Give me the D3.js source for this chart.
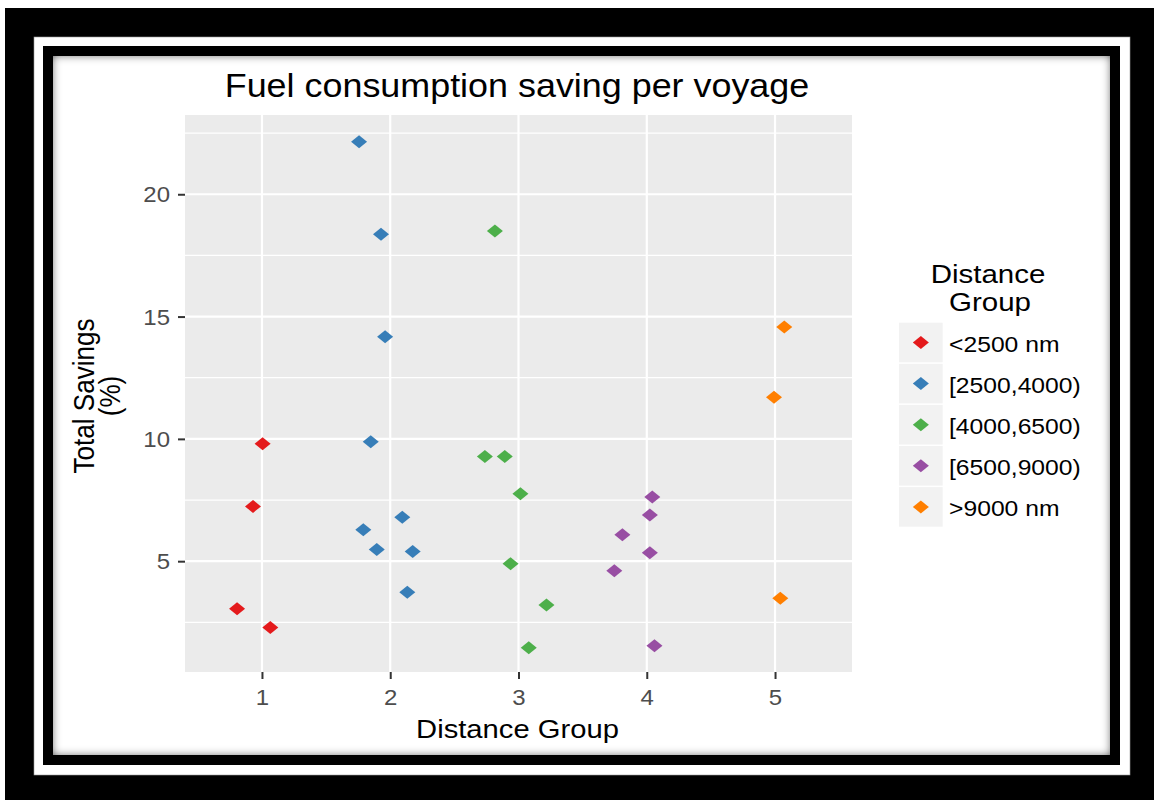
<!DOCTYPE html>
<html>
<head>
<meta charset="utf-8">
<script src="https://cdn.jsdelivr.net/npm/d3@7"></script>
<style>
  html, body { margin: 0; padding: 0; background: #fff; }
  svg { display: block; }
  text { font-family: "Liberation Sans", Arial, sans-serif; }
</style>
</head>
<body>
<svg id="chart" width="1154" height="800"></svg>
<script>
// ---- data -------------------------------------------------------------
const groups = ["<2500 nm", "[2500,4000)", "[4000,6500)", "[6500,9000)", ">9000 nm"];
const groupColors = ["#E41A1C", "#377EB8", "#4DAF4A", "#984EA3", "#FF7F00"];

// jittered group position and total savings (%) for each voyage, per group
const shortX = [1.005, 0.93, 0.806, 1.065];
const shortY = [9.80, 7.24, 3.06, 2.29];
const mediumX = [1.757, 1.928, 1.96, 1.848, 2.094, 1.79, 1.895, 2.175, 2.133];
const mediumY = [22.15, 18.36, 14.18, 9.88, 6.80, 6.29, 5.48, 5.40, 3.73];
const longX = [2.816, 2.738, 2.893, 3.015, 2.938, 3.218, 3.08];
const longY = [18.50, 9.28, 9.28, 7.76, 4.90, 3.21, 1.46];
const veryLongX = [4.043, 4.024, 3.81, 4.024, 3.747, 4.06];
const veryLongY = [7.62, 6.89, 6.08, 5.35, 4.61, 1.54];
const oceanX = [5.072, 4.992, 5.041];
const oceanY = [14.57, 11.70, 3.48];

const xTicks = [1, 2, 3, 4, 5];
const yTicks = [5, 10, 15, 20];
const yMinorTicks = [2.5, 7.5, 12.5, 17.5, 22.5];

const title = "Fuel consumption saving per voyage";
const xTitle = "Distance Group";
const yTitle = ["Total Savings", "(%)"];
const legendTitle = ["Distance", "Group"];

// ---- layout -----------------------------------------------------------
const svg = d3.select("#chart");
const panel = { left: 185, right: 852, top: 115, bottom: 672 };
const squash = 0.9;   // text is drawn slightly condensed vertically

const seriesX = [shortX, mediumX, longX, veryLongX, oceanX];
const seriesY = [shortY, mediumY, longY, veryLongY, oceanY];
const points = [];
seriesX.forEach((xs, g) => xs.forEach((xv, i) => points.push({ g, x: xv, y: seriesY[g][i] })));

const x = d3.scaleLinear().domain([0.4, 5.6]).range([panel.left, panel.right]);
const y = d3.scaleLinear().domain([0.47, 23.24]).range([panel.bottom, panel.top]);

// ---- framed backdrop --------------------------------------------------
const defs = svg.append("defs");
const f = defs.append("filter").attr("id", "innerShadow")
  .attr("x", "-3%").attr("y", "-3%").attr("width", "106%").attr("height", "106%");
f.append("feFlood").attr("flood-color", "#000").attr("flood-opacity", 1).attr("result", "flood");
f.append("feComposite").attr("in", "flood").attr("in2", "SourceAlpha").attr("operator", "out").attr("result", "outside");
f.append("feGaussianBlur").attr("in", "outside").attr("stdDeviation", 4).attr("result", "blur");
f.append("feComposite").attr("in", "blur").attr("in2", "SourceAlpha").attr("operator", "in").attr("result", "shadow");
const fm = f.append("feMerge");
fm.append("feMergeNode").attr("in", "SourceGraphic");
fm.append("feMergeNode").attr("in", "shadow");

svg.append("rect").attr("x", 5).attr("y", 8).attr("width", 1149).attr("height", 792).attr("fill", "#000");
svg.append("rect").attr("x", 34).attr("y", 37).attr("width", 1096).attr("height", 738)
  .attr("fill", "#fff").attr("stroke", "#999").attr("stroke-width", 0.6);
svg.append("rect").attr("x", 43).attr("y", 46).attr("width", 1077).attr("height", 719).attr("fill", "#000");
svg.append("rect").attr("x", 53).attr("y", 56).attr("width", 1057).attr("height", 699)
  .attr("fill", "#fff").attr("filter", "url(#innerShadow)");

// ---- plot panel -------------------------------------------------------
const plot = svg.append("g");
plot.append("rect")
  .attr("x", panel.left).attr("y", panel.top)
  .attr("width", panel.right - panel.left).attr("height", panel.bottom - panel.top)
  .attr("fill", "#EBEBEB");

plot.selectAll("line.minor").data(yMinorTicks).join("line").attr("class", "minor")
  .attr("x1", panel.left).attr("x2", panel.right)
  .attr("y1", d => y(d)).attr("y2", d => y(d))
  .attr("stroke", "#fff").attr("stroke-width", 1.2);
plot.selectAll("line.hmajor").data(yTicks).join("line").attr("class", "hmajor")
  .attr("x1", panel.left).attr("x2", panel.right)
  .attr("y1", d => y(d)).attr("y2", d => y(d))
  .attr("stroke", "#fff").attr("stroke-width", 2.2);
plot.selectAll("line.vmajor").data(xTicks).join("line").attr("class", "vmajor")
  .attr("y1", panel.top).attr("y2", panel.bottom)
  .attr("x1", d => x(d)).attr("x2", d => x(d))
  .attr("stroke", "#fff").attr("stroke-width", 2.2);

// diamond marker
const diamond = (cx, cy, hw = 8, hh = 6.5) =>
  `M${cx},${cy - hh}L${cx + hw},${cy}L${cx},${cy + hh}L${cx - hw},${cy}Z`;

plot.selectAll("path.pt").data(points).join("path").attr("class", "pt")
  .attr("d", d => diamond(x(d.x), y(d.y)))
  .attr("fill", d => groupColors[d.g]);

// ---- axes -------------------------------------------------------------
const tickFont = 24;
const yAxis = svg.append("g").attr("transform", `translate(${panel.left},0)`)
  .call(d3.axisLeft(y).tickValues(yTicks).tickSize(7).tickPadding(8).tickFormat(d3.format("d")));
const xAxis = svg.append("g").attr("transform", `translate(0,${panel.bottom})`)
  .call(d3.axisBottom(x).tickValues(xTicks).tickSize(7).tickPadding(8).tickFormat(d3.format("d")));
[yAxis, xAxis].forEach(a => {
  a.select(".domain").remove();
  a.selectAll(".tick line").attr("stroke", "#333").attr("stroke-width", 2);
  a.selectAll(".tick text").attr("fill", "#4D4D4D").attr("font-size", tickFont)
    .attr("font-family", "Liberation Sans, Arial, sans-serif");
});
yAxis.selectAll(".tick text").attr("dy", "0.35em").attr("transform", `scale(1,${squash})`);
xAxis.selectAll(".tick text").attr("dy", null).attr("y", 33 / squash).attr("transform", `scale(1,${squash})`);

// ---- titles -----------------------------------------------------------
function label(parent, tx, ty, str, size, opts = {}) {
  const t = parent.append("text")
    .attr("transform", `translate(${tx},${ty}) scale(1,${squash})${opts.rotate ? " rotate(-90)" : ""}`)
    .attr("font-size", size)
    .attr("text-anchor", opts.anchor || "middle")
    .attr("fill", opts.fill || "#000")
    .text(str);
  return t;
}
const cx = (panel.left + panel.right) / 2;
label(svg, cx - 1.5, 97, title, 35.9);
label(svg, cx - 1, 738, xTitle, 29.2);
label(svg, 94, 396, yTitle[0], 29, { rotate: true });
label(svg, 120, 396, yTitle[1], 29, { rotate: true });

// ---- legend -----------------------------------------------------------
const legend = svg.append("g");
label(legend, 988, 283, legendTitle[0], 29.5);
label(legend, 990, 311, legendTitle[1], 29.5);
const keyTop = 322.7, keyStep = 41.1, keyLeft = 899, keyW = 43.7, keyH = 39.6;
const keys = legend.selectAll("g.key").data(groups).join("g").attr("class", "key")
  .attr("transform", (d, i) => `translate(${keyLeft},${keyTop + i * keyStep})`);
keys.append("rect").attr("width", keyW).attr("height", keyH).attr("fill", "#F2F2F2");
keys.append("path").attr("d", diamond(keyW / 2, keyH / 2)).attr("fill", (d, i) => groupColors[i]);
keys.each(function (d) {
  label(d3.select(this), 50, keyH / 2 + 9, d, 24.7, { anchor: "start" });
});
</script>
</body>
</html>
